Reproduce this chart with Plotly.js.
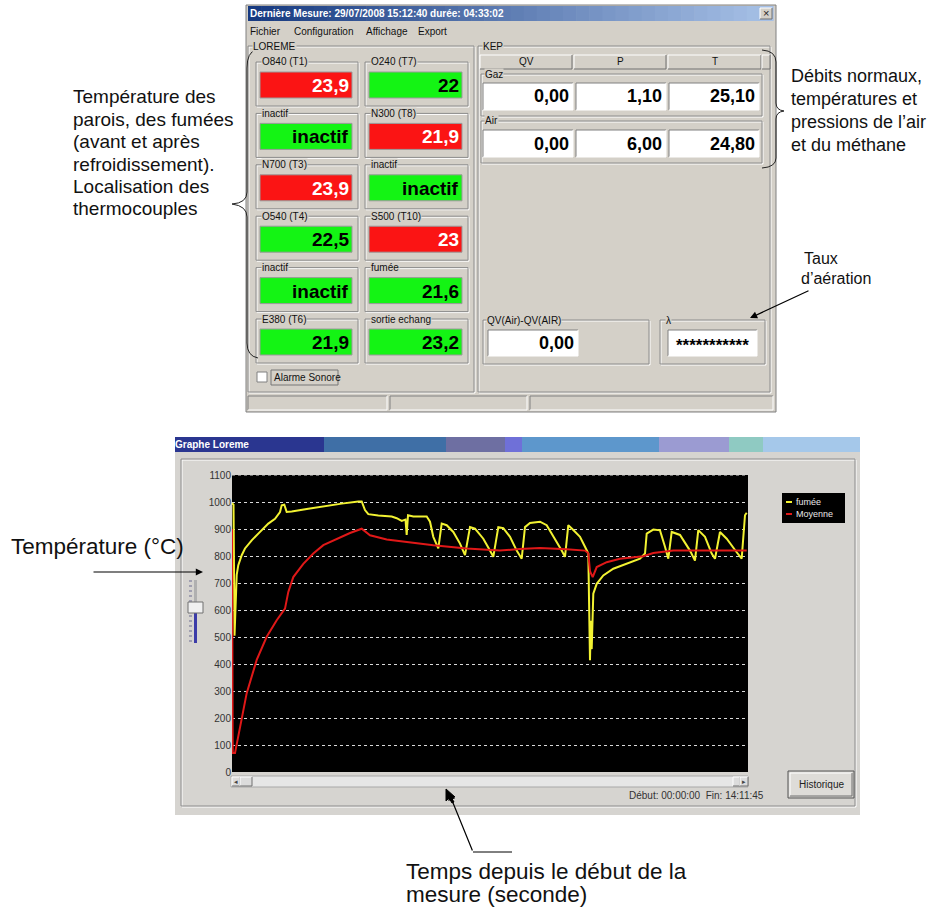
<!DOCTYPE html>
<html><head><meta charset="utf-8">
<script src="https://cdn.plot.ly/plotly-3.0.1.min.js"></script>
<style>html,body{margin:0;padding:0;background:#fff}#chart{width:940px;height:910px}</style>
</head><body><div id="chart"></div>
<script>
// ---------- DATA ----------
const timeFumee = [0,150,250,350,465,624,961,1288,1951,2605,3595,4259,4754,4922,5180,5417,5913,7557,9211,10865,12509,12846,13172,13499,14489,15817,16311,16807,17183,17302,17431,17956,19283,19610,19937,20432,20769,21264,21918,22581,23076,23572,24067,24889,25552,25879,26375,26870,27533,28197,28692,29019,29514,30504,31168,31990,32653,32980,33307,33802,34466,34961,35288,35456,35540,35625,35783,36120,36774,37764,39091,40408,40904,41072,41726,42389,42884,43211,43548,44370,45360,45855,46182,46846,47509,47836,48331,48995,49985,50480,50807,50975];
const fumee = [995,990,505,600,730,766,803,828,858,883,920,938,963,988,990,963,965,975,985,994,1002,1002,970,955,950,946,940,930,935,878,951,946,946,927,871,828,920,914,889,846,803,907,901,864,820,797,907,903,871,820,790,907,922,927,914,864,820,797,914,896,871,834,809,414,560,455,660,697,728,753,771,790,809,883,898,895,834,790,889,878,820,783,896,871,809,790,889,864,814,790,951,960];
const timeMoyenne = [0,70,297,792,1456,2446,3437,4427,5249,5576,6071,7062,8052,9042,10370,11687,12846,13668,15322,16966,19937,23245,26543,28500,30504,33148,34961,35288,35456,35724,36120,37110,38427,40735,41726,43707,46351,50975];
const moyenne = [900,70,70,168,292,415,501,562,605,667,722,771,809,840,864,885,901,877,861,853,840,828,820,826,830,825,820,810,744,722,759,777,790,799,811,820,820,820];
const seriesNames = ['fumée','Moyenne'];
const yTicks = [0,100,200,300,400,500,600,700,800,900,1000,1100];
const sensorLabels = ['O840 (T1)','O240 (T7)','inactif','N300 (T8)','N700 (T3)','inactif','O540 (T4)','S500 (T10)','inactif','fumée','E380 (T6)','sortie echang'];
const sensorValues = ['23,9','22','inactif','21,9','23,9','inactif','22,5','23','inactif','21,6','21,9','23,2'];
const sensorAlarm = [true,false,false,true,true,false,false,true,false,false,false,false];
const kepColumns = ['QV','P','T'];
const kepRows = ['Gaz','Air'];
const kepValues = [['0,00','1,10','25,10'],['0,00','6,00','24,80']];
const qvDiffLabel = 'QV(Air)-QV(AIR)';
const qvDiffValue = '0,00';
const lambdaLabel = 'λ';
const lambdaValue = '***********';
const dialogTitle = 'Dernière Mesure: 29/07/2008 15:12:40 durée: 04:33:02';
const menuItems = ['Fichier','Configuration','Affichage','Export'];
const graphTitle = 'Graphe Loreme';
const timeSpan = 'Début: 00:00:00  Fin: 14:11:45';
const endSeconds = 51105;
const leftNote = ['Température des','parois, des fumées','(avant et après','refroidissement).','Localisation des','thermocouples'];
const rightNote = ['Débits normaux,','températures et','pressions de l\u2019air','et du méthane'];
const tauxNote = ['Taux','d\u2019aération'];
const tempNote = 'Température (°C)';
const timeNote = ['Temps depuis le début de la','mesure (seconde)'];

// ---------- HELPERS ----------
const W=940,H=910;
const FONT='Liberation Sans, Arial, sans-serif';
const px=x=>x/W, py=y=>1-y/H;
const shapes=[], ann=[];
const BODY='#d4d0c8', GBODY='#d6d4d0';
function rect(x0,y0,x1,y1,fill,lc,lw){shapes.push({type:'rect',xref:'paper',yref:'paper',x0:px(x0),x1:px(x1),y0:py(y1),y1:py(y0),fillcolor:fill||'rgba(0,0,0,0)',line:{color:lc||'rgba(0,0,0,0)',width:lc?(lw||1):0},layer:'below'});}
function line(x0,y0,x1,y1,c,w){shapes.push({type:'line',xref:'paper',yref:'paper',x0:px(x0),y0:py(y0),x1:px(x1),y1:py(y1),line:{color:c,width:w||1},layer:'below'});}
function path(cmds,c,w,fill){const d=cmds.map(k=>k[0]+' '+k.slice(1).map((v,i)=>i%2===0?px(v).toFixed(5):py(v).toFixed(5)).join(',')).join(' ');shapes.push({type:'path',xref:'paper',yref:'paper',path:d,line:{color:c,width:w||1},fillcolor:fill||'rgba(0,0,0,0)',layer:'below'});}
function txt(x,y,t,o){o=o||{};ann.push({xref:'paper',yref:'paper',x:px(x),y:py(y),text:t,showarrow:false,xanchor:o.xa||'left',yanchor:o.ya||'middle',font:{size:o.size||10,color:o.color||'#000',family:o.family||FONT},bgcolor:o.bg||'rgba(0,0,0,0)',borderpad:0});}
function arrow(x,y,fx,fy){ann.push({xref:'paper',yref:'paper',x:px(x),y:py(y),ax:fx-x,ay:fy-y,text:'',showarrow:true,arrowhead:2,arrowsize:1.2,arrowwidth:1.2,arrowcolor:'#000'});}
function group(x0,y0,x1,y1,label,lx,bg){rect(x0+1,y0+1,x1+1,y1+1,null,'#ffffff',1);rect(x0,y0,x1,y1,null,'#8c8c8c',1);if(label)txt(lx||x0+5,y0,label,{bg:bg||BODY,size:10,color:'#111'});}
function sunken(x0,y0,x1,y1,fill){rect(x0,y0,x1,y1,fill,null);line(x0,y0,x1,y0,'#808080',1);line(x0,y0,x0,y1,'#808080',1);line(x0,y1,x1,y1,'#ffffff',1);line(x1,y0,x1,y1,'#ffffff',1);}
function raised(x0,y0,x1,y1,fill){rect(x0,y0,x1,y1,fill||BODY,null);line(x0,y0,x1,y0,'#ffffff',1);line(x0,y0,x0,y1,'#ffffff',1);line(x0,y1,x1,y1,'#707070',1);line(x1,y0,x1,y1,'#707070',1);}
function hex(c){return [parseInt(c.slice(1,3),16),parseInt(c.slice(3,5),16),parseInt(c.slice(5,7),16)];}
function mix(a,b,t){const A=hex(a),B=hex(b);return 'rgb('+A.map((v,i)=>Math.round(v+(B[i]-v)*t)).join(',')+')';}

// ---------- TOP DIALOG ----------
rect(246,5,776,412,BODY,'#808080',1);
const nSl=40;
for(let i=0;i<nSl;i++){const a=248+(773-248)*i/nSl,b=248+(773-248)*(i+1)/nSl+0.6;rect(a,6,b,21,mix('#173a80','#a6c0e6',i/(nSl-1)),null);}
txt(249,13.5,'<b>'+dialogTitle+'</b>',{color:'#fff',size:10});
raised(760,8,772,19,BODY);txt(766,13.5,'×',{xa:'center',size:11,color:'#222'});
const menuX=[249,293,365,417];
menuItems.forEach((m,i)=>txt(menuX[i],31.5,m,{size:10,color:'#111'}));
// LOREME group
group(248,46,474,392,'LOREME',252);
const colX=[[256,358,260,352],[365,468,369,462]];
sensorLabels.forEach((lab,i)=>{
  const r=Math.floor(i/2),c=i%2,top=62+r*51.4,C=colX[c];
  group(C[0],top,C[1],top+44,lab,C[0]+5);
  rect(C[2],top+10,C[3],top+36,sensorAlarm[i]?'#fb1414':'#14f414','#9a9a9a',1);
  txt(C[3]-2,top+23.5,'<b>'+sensorValues[i]+'</b>',{xa:'right',size:19,color:sensorAlarm[i]?'#ffffff':'#000000'});
});
rect(257,372,267,382,'#ffffff','#808080',1);
rect(271,370,338,385,null,'#777',1);
txt(273,377.5,'Alarme Sonore',{size:10,color:'#111'});
// KEP group
group(478,46,770,392,'KEP',482);
const colK=[[480,572],[574,666],[668,761]];
kepColumns.forEach((k,i)=>{raised(colK[i][0],55,colK[i][1],69);txt((colK[i][0]+colK[i][1])/2,62,k,{xa:'center',size:10,color:'#111'});});
raised(762,55,770,69);
const boxK=[[483,573],[576,666],[669,759]];
kepRows.forEach((rw,r)=>{
  const top=74+r*47;
  group(481,top,762,top+42,rw,484);
  kepValues[r].forEach((v,j)=>{sunken(boxK[j][0],top+9,boxK[j][1],top+36,'#ffffff');txt(boxK[j][1]-3,top+22.5,'<b>'+v+'</b>',{xa:'right',size:18});});
});
group(483,320,649,364,qvDiffLabel,486);
sunken(488,330,578,356,'#ffffff');
txt(575,343,'<b>'+qvDiffValue+'</b>',{xa:'right',size:18});
group(660,320,765,364,lambdaLabel,665);
sunken(668,330,757,356,'#ffffff');
txt(712.5,345,'<b>'+lambdaValue+'</b>',{xa:'center',size:17});
// status bar
sunken(248,396,387,410,BODY);sunken(390,396,527,410,BODY);sunken(530,396,773,410,BODY);
// braces
path([['M',256,50],['Q',247,52,247,68],['L',247,192],['Q',247,203,232,204],['Q',247,206,247,217],['L',247,343],['Q',247,356,258,358]],'#222',1);
path([['M',762,50],['Q',776,51,776,62],['L',776,103],['Q',776,110,784,111],['Q',776,112,776,119],['L',776,158],['Q',776,167,762,168]],'#222',1);

// ---------- GRAPH WINDOW ----------
rect(175,437,860,815,GBODY,null);
const segs=[[175,324,'#2a3690'],[324,446,'#3f6fa6'],[446,505,'#6e6fa2'],[505,522,'#6f70d8'],[522,659,'#5d97cc'],[659,729,'#9b9bd2'],[729,763,'#8fcac2'],[763,860,'#a5c8ea']];
segs.forEach(s=>rect(s[0],437,s[1],452,s[2],null));
txt(174,444.5,'<b>'+graphTitle+'</b>',{color:'#fff',size:10});
group(181,459,855,806,null);
// plot area background (black)
rect(232,475,748,772,'#000000',null);
// top gridline at the range edge (1100), referenced to the y axis
shapes.push({type:'line',xref:'paper',yref:'y',x0:px(232),x1:px(748),y0:yTicks[yTicks.length-1],y1:yTicks[yTicks.length-1],line:{color:'#d8d8d8',width:1,dash:'dot'},layer:'below'});
// slider
rect(194,580,197,602,'#b0b0b0',null);rect(194,613,197,643,'#3c3ca8',null);
for(let k=0;k<13;k++){const yy=581+k*5;line(189,yy,192,yy,'#6a6a90',1);}
rect(188,602,203,613,'#f0f0f0','#707070',1);
// scrollbar
rect(231,776,748,787,'#e6e6e6','#a8a8a8',1);
raised(232,777,240,786,'#dcdcdc');raised(240,777,252,786,'#dcdcdc');
raised(733,777,740,786,'#dcdcdc');raised(740,777,748,786,'#dcdcdc');
txt(236,781.5,'◂',{xa:'center',size:7,color:'#444'});txt(744,781.5,'▸',{xa:'center',size:7,color:'#444'});
txt(696,795,timeSpan,{xa:'center',size:10,color:'#333'});
raised(790,773,852,796,'#dedcd8');rect(788,771,854,798,null,'#555',1);
txt(821,784.5,'Historique',{xa:'center',size:10,color:'#222'});
// legend
rect(782,493,845,523,'#000000',null);
line(786,502,792,502,'#f4f430',2);line(786,514,792,514,'#e01818',2);
txt(795,502,seriesNames[0],{size:9,color:'#e8e8e8'});
txt(795,514,seriesNames[1],{size:9,color:'#e8e8e8'});
// mouse cursor
path([['M',446,789],['L',446,801],['L',449,798],['L',452,803],['L',454,802],['L',451,797],['L',455,797],['Z']],'#000',1,'#000');

// ---------- NOTES ----------
leftNote.forEach((t,i)=>txt(72,97+i*22.4,t,{size:19,color:'#111'}));
rightNote.forEach((t,i)=>txt(790,76+i*23,t,{size:18,color:'#111'}));
txt(803,258,tauxNote[0],{size:16,color:'#111'});txt(800,278,tauxNote[1],{size:16,color:'#111'});
arrow(750,318,810,290);
txt(10,546,tempNote,{size:22.5,color:'#111'});
arrow(203,572,92,572);
timeNote.forEach((t,i)=>txt(405,871+i*23,t,{size:22.5,color:'#111'}));
line(473,852,512,852,'#000',1);
arrow(449,793,473,852);

// ---------- TRACES ----------
const traces=[
 {x:timeFumee,y:fumee,name:seriesNames[0],type:'scatter',mode:'lines',line:{color:'#f2f232',width:2}},
 {x:timeMoyenne,y:moyenne,name:seriesNames[1],type:'scatter',mode:'lines',line:{color:'#e01818',width:2}}
];
const layout={
 width:W,height:H,margin:{l:0,r:0,t:0,b:0},autosize:false,
 paper_bgcolor:'#ffffff',plot_bgcolor:'#000000',showlegend:false,
 font:{family:FONT},
 xaxis:{domain:[px(232),px(748)],range:[0,endSeconds],showgrid:false,zeroline:false,showticklabels:false,ticks:'',showline:false,fixedrange:true},
 yaxis:{domain:[py(772),py(475)],range:[0,1100],tickvals:yTicks,ticktext:yTicks.map(String),showgrid:true,gridcolor:'#d8d8d8',griddash:'dot',gridwidth:1,zeroline:false,ticks:'',tickfont:{size:10,color:'#333'},showline:false,fixedrange:true},
 shapes:shapes,annotations:ann
};
Plotly.newPlot('chart',traces,layout,{staticPlot:true,displayModeBar:false});
</script></body></html>
